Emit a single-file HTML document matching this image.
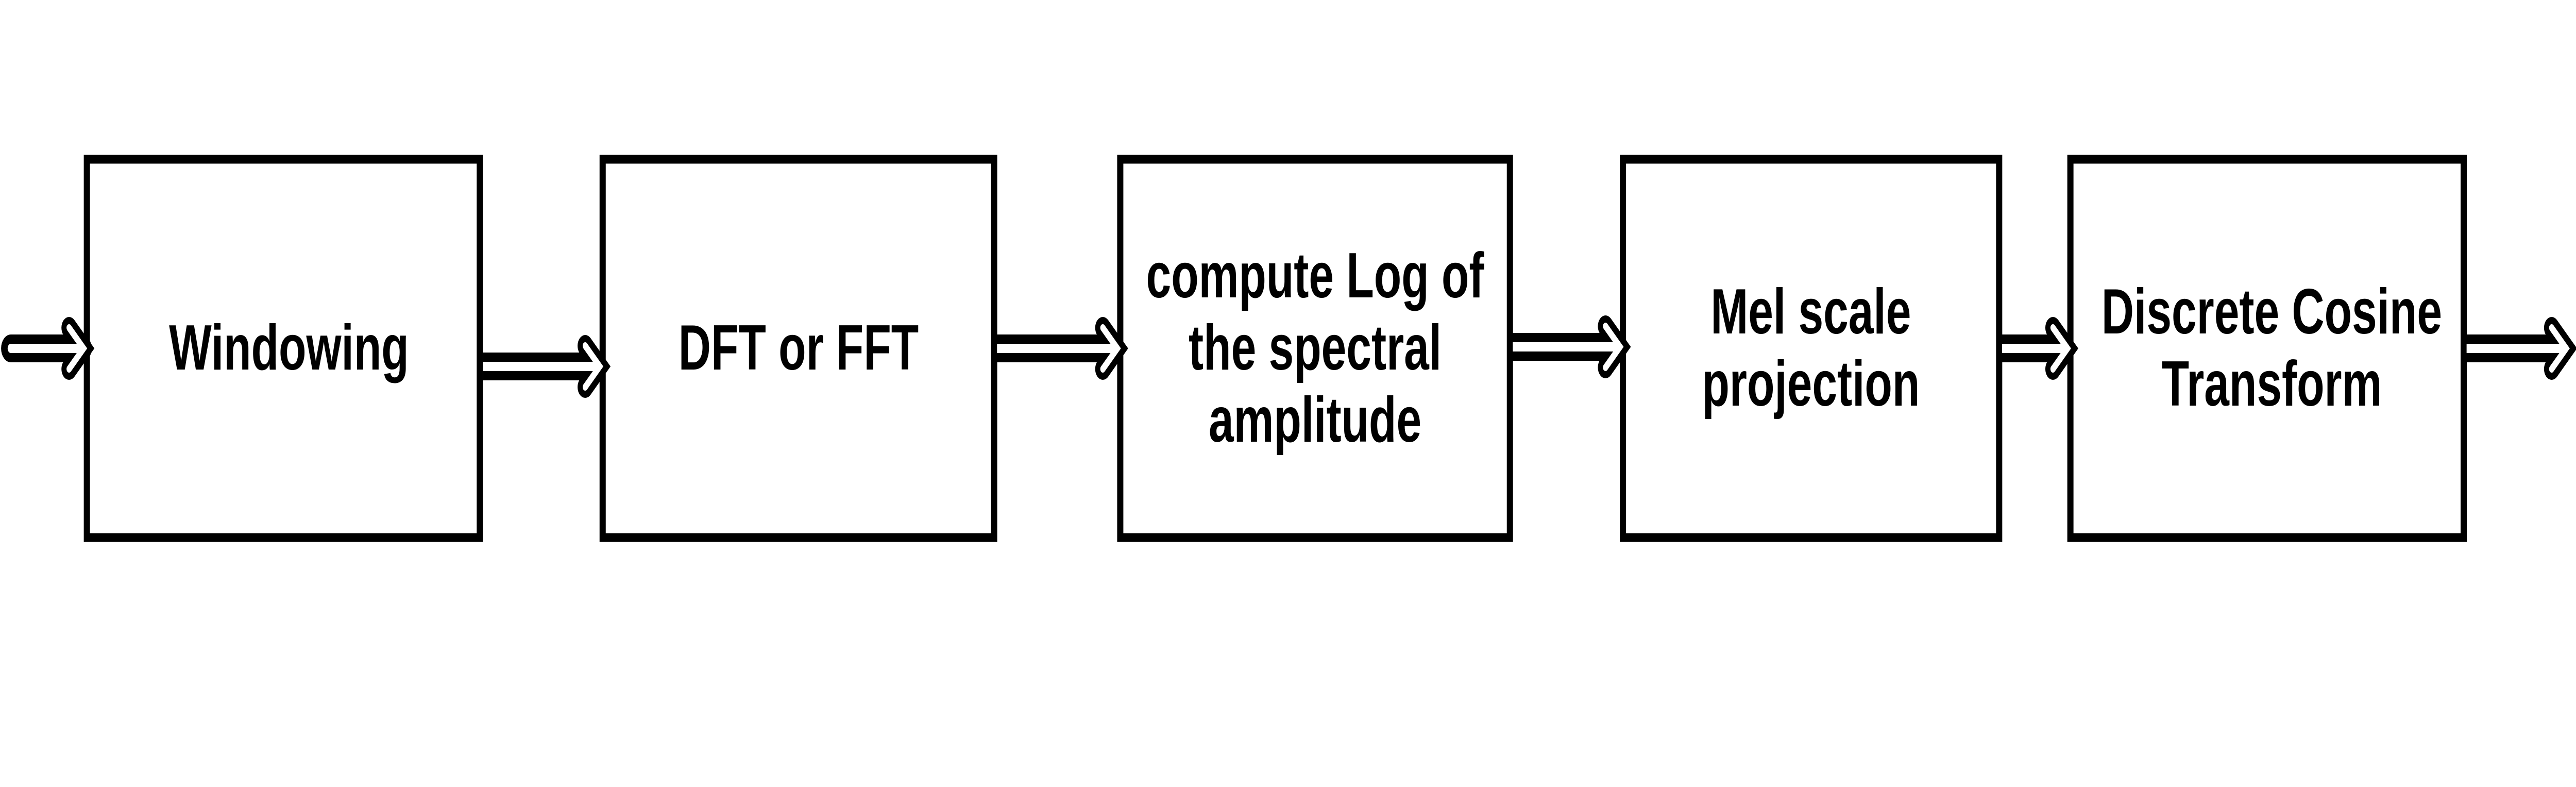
<!DOCTYPE html>
<html><head><meta charset="utf-8"><style>
html,body{margin:0;padding:0;background:#fff;width:100%;height:100%;overflow:hidden;}
svg{display:block;width:100vw;height:100vh;}
text{font-family:"Liberation Sans",Arial,sans-serif;font-weight:bold;font-size:124px;fill:#000;text-anchor:middle;}
</style></head><body>
<svg viewBox="0 0 7087 1527" preserveAspectRatio="none" xmlns="http://www.w3.org/2000/svg">
<rect width="7087" height="1527" fill="#fff"/>
<g fill="none" stroke="#000" stroke-width="17">
<rect x="239" y="309" width="1081" height="734"/>
<rect x="1658" y="309" width="1077" height="734"/>
<rect x="3082" y="309" width="1072" height="734"/>
<rect x="4465" y="309" width="1035" height="734"/>
<rect x="5696" y="309" width="1082" height="734"/>
</g>
<g stroke-linejoin="miter" stroke-linecap="round" fill="none">
<path d="M30 676 H225" stroke="#000" stroke-width="54"/>
<path d="M190 636 L230 676 L190 716" stroke="#000" stroke-width="42"/>
<path d="M30 676 H225" stroke="#fff" stroke-width="18"/>
<path d="M190 636 L230 676 L190 716" stroke="#fff" stroke-width="14"/>
<path d="M1329 711 H1645" stroke="#000" stroke-width="54" stroke-linecap="butt"/>
<path d="M1610 671 L1650 711 L1610 751" stroke="#000" stroke-width="42"/>
<path d="M1329 711 H1645" stroke="#fff" stroke-width="18" stroke-linecap="butt"/>
<path d="M1610 671 L1650 711 L1610 751" stroke="#fff" stroke-width="14"/>
<path d="M2743 676 H3069" stroke="#000" stroke-width="54" stroke-linecap="butt"/>
<path d="M3034 636 L3074 676 L3034 716" stroke="#000" stroke-width="42"/>
<path d="M2743 676 H3069" stroke="#fff" stroke-width="18" stroke-linecap="butt"/>
<path d="M3034 636 L3074 676 L3034 716" stroke="#fff" stroke-width="14"/>
<path d="M4162 673 H4452" stroke="#000" stroke-width="54" stroke-linecap="butt"/>
<path d="M4417 633 L4457 673 L4417 713" stroke="#000" stroke-width="42"/>
<path d="M4162 673 H4452" stroke="#fff" stroke-width="18" stroke-linecap="butt"/>
<path d="M4417 633 L4457 673 L4417 713" stroke="#fff" stroke-width="14"/>
<path d="M5508 676 H5683" stroke="#000" stroke-width="54" stroke-linecap="butt"/>
<path d="M5648 636 L5688 676 L5648 716" stroke="#000" stroke-width="42"/>
<path d="M5508 676 H5683" stroke="#fff" stroke-width="18" stroke-linecap="butt"/>
<path d="M5648 636 L5688 676 L5648 716" stroke="#fff" stroke-width="14"/>
<path d="M6786 676 H7055" stroke="#000" stroke-width="54" stroke-linecap="butt"/>
<path d="M7020 636 L7060 676 L7020 716" stroke="#000" stroke-width="42"/>
<path d="M6786 676 H7055" stroke="#fff" stroke-width="18" stroke-linecap="butt"/>
<path d="M7020 636 L7060 676 L7020 716" stroke="#fff" stroke-width="14"/>
</g>
<text x="795" y="717">Windowing</text>
<text x="2197" y="717">DFT or FFT</text>
<text x="3618" y="577">compute Log of</text>
<text x="3618" y="717">the spectral</text>
<text x="3618" y="857">amplitude</text>
<text x="4982" y="647">Mel scale</text>
<text x="4982" y="787">projection</text>
<text x="6250" y="647">Discrete Cosine</text>
<text x="6250" y="787">Transform</text>
</svg>
</body></html>
